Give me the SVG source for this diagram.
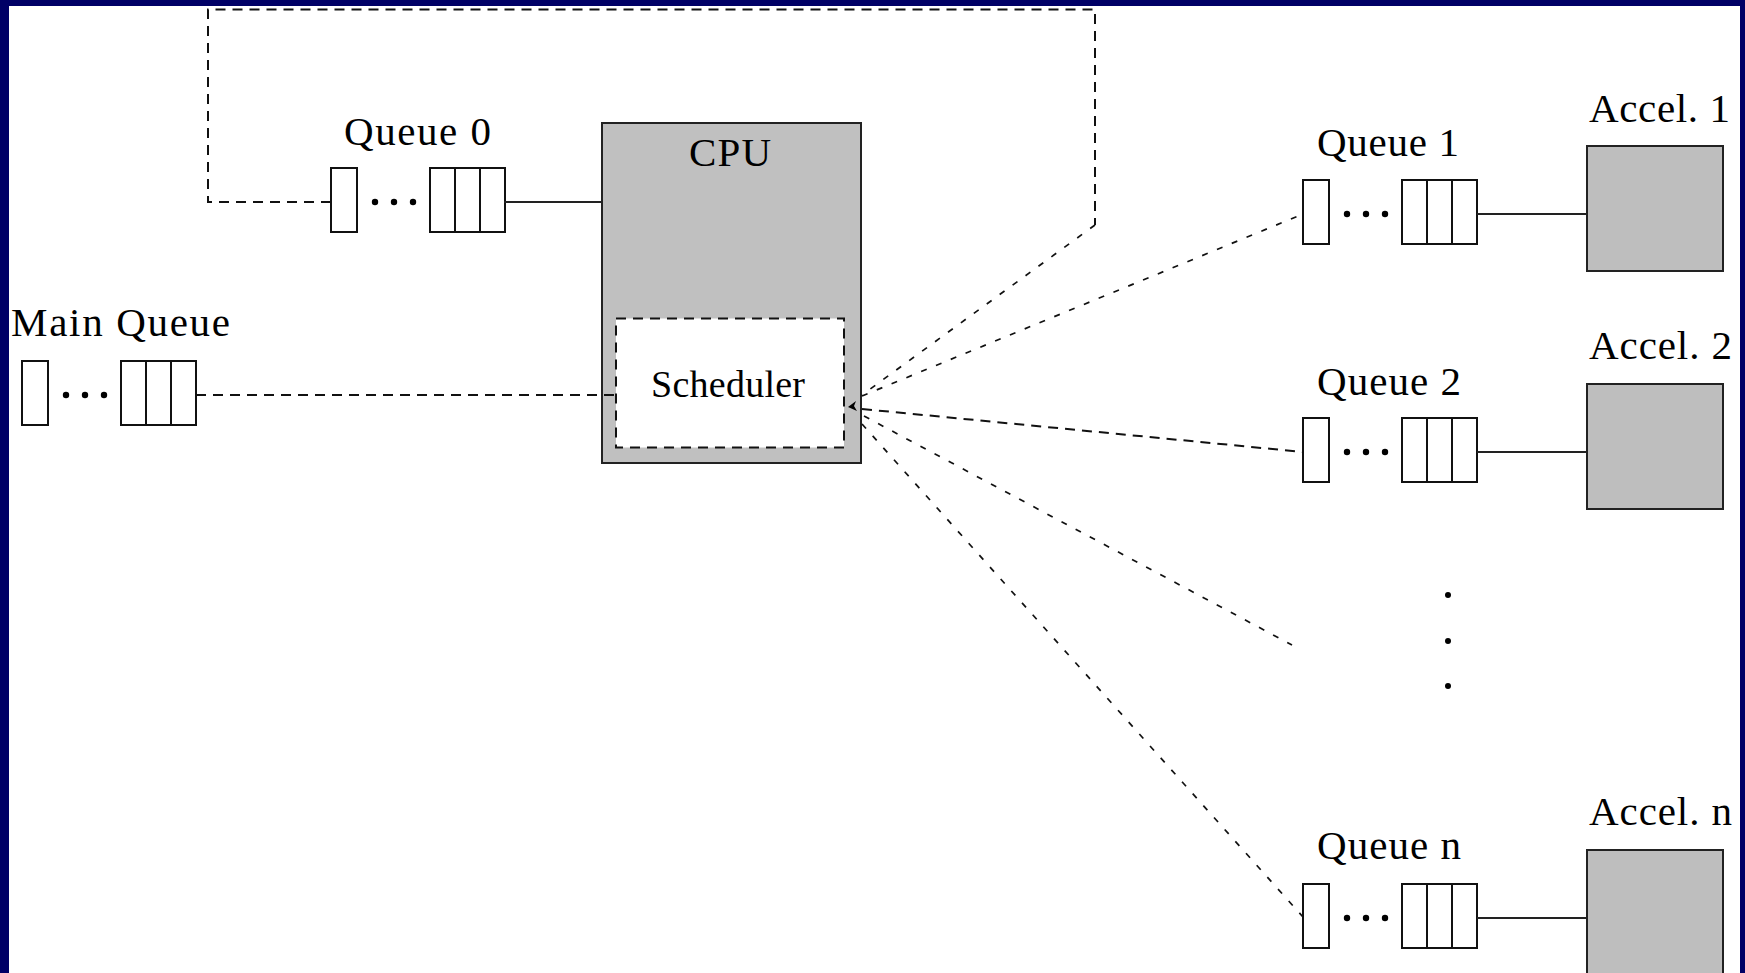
<svg xmlns="http://www.w3.org/2000/svg" xmlns:xlink="http://www.w3.org/1999/xlink" width="1745" height="973" viewBox="0 0 1745 973">
  <style>
    .lbl { font-family: "Liberation Serif", "Times New Roman", serif; font-size: 41px; fill: #000; }
    .box { stroke: #222; stroke-width: 2; }
    .q { fill: #fff; stroke: #111; stroke-width: 2; }
    .solid { stroke: #222; stroke-width: 2.2; fill: none; }
    .dash { stroke: #111; stroke-width: 2; fill: none; stroke-dasharray: 10 7; }
    .dashd { stroke: #111; stroke-width: 1.7; fill: none; stroke-dasharray: 6 10; }
  </style>
  <defs>
    <!-- queue glyph: one slot, ellipsis, three slots -->
    <g id="queue-shape">
      <rect class="q" x="0" y="0" width="26" height="64"/>
      <circle cx="44" cy="34" r="3.2" fill="#000"/>
      <circle cx="63" cy="34" r="3.2" fill="#000"/>
      <circle cx="82" cy="34" r="3.2" fill="#000"/>
      <rect class="q" x="99" y="0" width="75" height="64"/>
      <line class="q" x1="124" y1="0" x2="124" y2="64"/>
      <line class="q" x1="149" y1="0" x2="149" y2="64"/>
    </g>
  </defs>

  <!-- slide frame -->
  <rect x="0" y="0" width="1745" height="973" fill="#000066"/>
  <rect x="9" y="6" width="1731" height="967" fill="#fff"/>

  <g id="cpu">
    <rect class="box" x="602" y="123" width="259" height="340" fill="#c0c0c0"/>
    <text class="lbl" x="689" y="166" textLength="82">CPU</text>
  </g>

  <g id="scheduler">
    <rect x="616" y="318.5" width="228" height="129" fill="#fff" stroke="#111" stroke-width="2" stroke-dasharray="10 7"/>
    <text class="lbl" x="651" y="397" style="font-size:38px" textLength="154">Scheduler</text>
  </g>

  <g id="main-queue">
    <text class="lbl" x="11" y="336" textLength="219">Main Queue</text>
    <use xlink:href="#queue-shape" x="22" y="361"/>
  </g>

  <g id="queue-0">
    <text class="lbl" x="344" y="145" textLength="147">Queue 0</text>
    <use xlink:href="#queue-shape" x="331" y="168"/>
  </g>

  <g id="queue-1">
    <text class="lbl" x="1317" y="156" textLength="142">Queue 1</text>
    <use xlink:href="#queue-shape" x="1303" y="180"/>
  </g>

  <g id="queue-2">
    <text class="lbl" x="1317" y="395" textLength="144">Queue 2</text>
    <use xlink:href="#queue-shape" x="1303" y="418"/>
  </g>

  <g id="queue-n">
    <text class="lbl" x="1317" y="859" textLength="144">Queue n</text>
    <use xlink:href="#queue-shape" x="1303" y="884"/>
  </g>

  <g id="ellipsis">
    <circle cx="1448" cy="595" r="3" fill="#000"/>
    <circle cx="1448" cy="641" r="3" fill="#000"/>
    <circle cx="1448" cy="686" r="3" fill="#000"/>
  </g>

  <g id="accel-1">
    <text class="lbl" x="1589" y="122" textLength="141">Accel. 1</text>
    <rect class="box" x="1587" y="146" width="136" height="125" fill="#bebebe"/>
  </g>

  <g id="accel-2">
    <text class="lbl" x="1589" y="359" textLength="143">Accel. 2</text>
    <rect class="box" x="1587" y="384" width="136" height="125" fill="#bebebe"/>
  </g>

  <g id="accel-n">
    <text class="lbl" x="1589" y="825" textLength="143">Accel. n</text>
    <rect class="box" x="1587" y="850" width="136" height="135" fill="#bebebe"/>
  </g>

  <!-- connectors -->
  <g id="connectors">
    <!-- feedback loop from scheduler back to queue 0 -->
    <polyline class="dash" points="331,202 208,202 208,9.5 1095,9.5 1095,225"/>
    <line class="dashd" x1="1095" y1="225" x2="862" y2="395"/>
    <!-- main queue into scheduler -->
    <line class="dash" x1="196" y1="395" x2="616" y2="395"/>
    <!-- queue 0 to CPU -->
    <line class="solid" x1="504" y1="202" x2="602" y2="202"/>
    <!-- scheduler to accelerator queues -->
    <line class="dashd" x1="862" y1="396" x2="1303" y2="214"/>
    <line class="dash" x1="862" y1="409" x2="1303" y2="452"/>
    <line class="dashd" x1="864" y1="416" x2="1292" y2="645"/>
    <line class="dashd" x1="862" y1="424" x2="1303" y2="917"/>
    <polygon points="848,407 856,401 854,406 857,411" fill="#000"/>
    <!-- queues to accelerators -->
    <line class="solid" x1="1477" y1="214" x2="1587" y2="214"/>
    <line class="solid" x1="1477" y1="452" x2="1587" y2="452"/>
    <line class="solid" x1="1477" y1="918" x2="1587" y2="918"/>
  </g>
</svg>
